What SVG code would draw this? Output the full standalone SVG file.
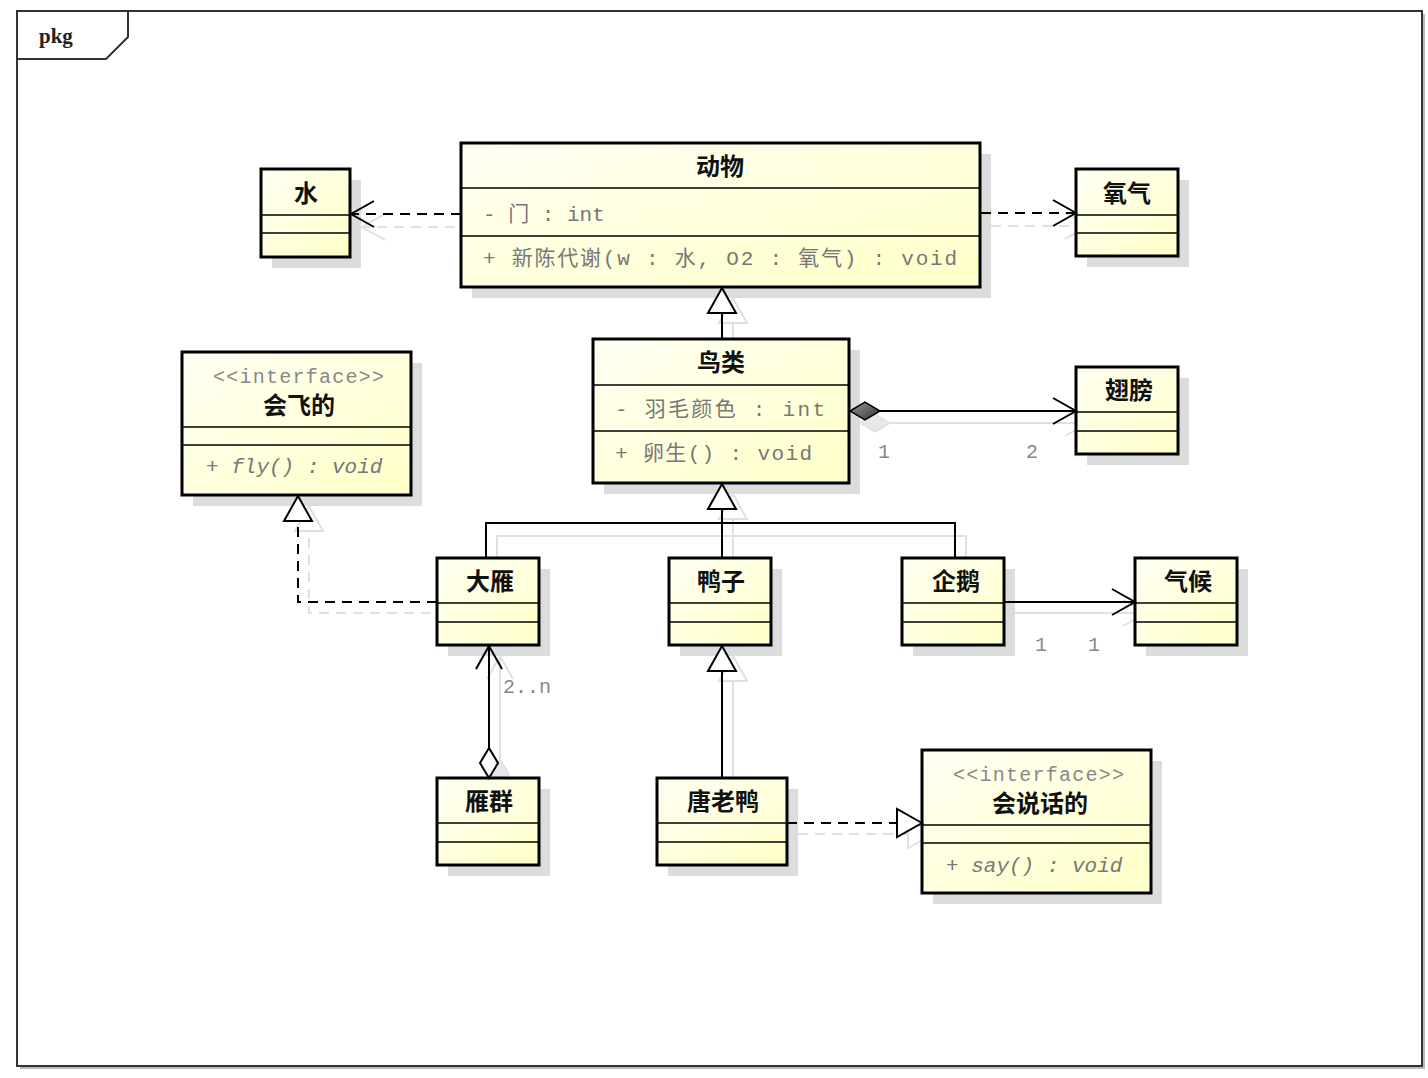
<svg xmlns="http://www.w3.org/2000/svg" width="1428" height="1078" viewBox="0 0 1428 1078">
<style>
.box{fill:url(#g);stroke:#000;stroke-width:3}
.shadow{fill:#dcdcdc}
.sep{stroke:#000;stroke-width:1.6}
.name{font-family:"Noto Sans CJK SC","Liberation Sans",sans-serif;font-size:24px;font-weight:bold;fill:#111;text-anchor:middle}
.mem{font-family:"Liberation Mono","Noto Sans CJK SC",monospace;font-size:21px;fill:#777}
.it{font-style:italic}
.st{font-family:"Liberation Mono","Noto Sans CJK SC",monospace;font-size:20px;fill:#888}
.lbl{font-family:"Liberation Mono",monospace;font-size:20px;fill:#888}
.ln{fill:none;stroke:#000;stroke-width:2}
.dash{stroke-dasharray:10 7}
.sh{fill:none;stroke:#e0e0e0;stroke-width:2}
</style>
<defs>
<linearGradient id="g" x1="0" y1="0" x2="1" y2="1">
<stop offset="0" stop-color="#fffff4"/>
<stop offset="1" stop-color="#ffffc8"/>
</linearGradient>
<linearGradient id="dg" x1="0" y1="0" x2="1" y2="1">
<stop offset="0" stop-color="#999"/>
<stop offset="1" stop-color="#333"/>
</linearGradient>
<marker id="open" viewBox="-26 -15 28 30" refX="0" refY="0" markerWidth="28" markerHeight="30" markerUnits="userSpaceOnUse" orient="auto">
<path d="M-23,-13 L0,0 L-23,13" fill="none" stroke="#000" stroke-width="2"/>
</marker>
<marker id="tri" viewBox="-28 -16 30 32" refX="0" refY="0" markerWidth="30" markerHeight="32" markerUnits="userSpaceOnUse" orient="auto">
<path d="M0,0 L-25,-14 L-25,14 Z" fill="#fff" stroke="#000" stroke-width="2"/>
</marker>
<marker id="dfill" viewBox="-2 -11 34 22" refX="0" refY="0" markerWidth="34" markerHeight="22" markerUnits="userSpaceOnUse" orient="auto">
<path d="M0,0 L15,-9 L30,0 L15,9 Z" fill="url(#dg)" stroke="#000" stroke-width="1.5"/>
</marker>
<marker id="dopen" viewBox="-2 -11 34 22" refX="0" refY="0" markerWidth="34" markerHeight="22" markerUnits="userSpaceOnUse" orient="auto">
<path d="M0,0 L15,-9 L30,0 L15,9 Z" fill="#fff" stroke="#000" stroke-width="2"/>
</marker>
<marker id="openS" viewBox="-26 -15 28 30" refX="0" refY="0" markerWidth="28" markerHeight="30" markerUnits="userSpaceOnUse" orient="auto">
<path d="M-23,-13 L0,0 L-23,13" fill="none" stroke="#e0e0e0" stroke-width="2"/>
</marker>
<marker id="triS" viewBox="-28 -16 30 32" refX="0" refY="0" markerWidth="30" markerHeight="32" markerUnits="userSpaceOnUse" orient="auto">
<path d="M0,0 L-25,-14 L-25,14 Z" fill="#fff" stroke="#e0e0e0" stroke-width="2"/>
</marker>
<marker id="dS" viewBox="-2 -11 34 22" refX="0" refY="0" markerWidth="34" markerHeight="22" markerUnits="userSpaceOnUse" orient="auto">
<path d="M0,0 L15,-9 L30,0 L15,9 Z" fill="#e8e8e8" stroke="#e0e0e0" stroke-width="1.5"/>
</marker>
</defs>
<rect width="1428" height="1078" fill="#fff"/>

<g id="frame">
<path d="M1424,14 L1424,1068 L20,1068" fill="none" stroke="#bbb" stroke-width="2"/>
<rect x="17" y="11" width="1405" height="1055" fill="none" stroke="#333" stroke-width="2"/>
<path d="M17,59 L106,59 L128,37 L128,11" fill="none" stroke="#333" stroke-width="2"/>
<text x="39" y="43" font-family="Liberation Serif,serif" font-size="21" font-weight="bold" fill="#222">pkg</text>
</g>

<g id="connectors-shadow">
<path class="sh dash" d="M472,227 L362,227" marker-end="url(#openS)"/>
<path class="sh dash" d="M991,226 L1088,226" marker-end="url(#openS)"/>
<path class="sh" d="M733,350 L733,298" marker-end="url(#triS)"/>
<path class="sh" d="M860,423 L1088,423" marker-start="url(#dS)" marker-end="url(#openS)"/>
<path class="sh" d="M733,569 L733,536 M497,569 L497,536 L966,536 L966,569 M733,536 L733,494" marker-end="url(#triS)"/>
<path class="sh dash" d="M448,613 L309,613 L309,506" marker-end="url(#triS)"/>
<path class="sh" d="M500,789 L500,656" marker-start="url(#dS)" marker-end="url(#openS)"/>
<path class="sh" d="M733,789 L733,656" marker-end="url(#triS)"/>
<path class="sh dash" d="M798,834 L933,834" marker-end="url(#triS)"/>
<path class="sh" d="M1015,613 L1146,613" marker-end="url(#openS)"/>
</g>

<g id="node-shui">
<rect class="shadow" x="272" y="180" width="89" height="88"/>
<rect class="box" x="261" y="169" width="89" height="88"/>
<line class="sep" x1="261" y1="215" x2="350" y2="215"/>
<line class="sep" x1="261" y1="233" x2="350" y2="233"/>
<text class="name" x="306" y="202">水</text>
</g>

<g id="node-yangqi">
<rect class="shadow" x="1087" y="180" width="102" height="87"/>
<rect class="box" x="1076" y="169" width="102" height="87"/>
<line class="sep" x1="1076" y1="215" x2="1178" y2="215"/>
<line class="sep" x1="1076" y1="233" x2="1178" y2="233"/>
<text class="name" x="1127" y="202">氧气</text>
</g>

<g id="node-dongwu">
<rect class="shadow" x="472" y="154" width="519" height="144"/>
<rect class="box" x="461" y="143" width="519" height="144"/>
<line class="sep" x1="461" y1="188" x2="980" y2="188"/>
<line class="sep" x1="461" y1="236" x2="980" y2="236"/>
<text class="name" x="720" y="175">动物</text>
<text class="mem" x="483" y="221">- 门 : int</text>
<text class="mem" x="483" y="265" textLength="474" lengthAdjust="spacing">+ 新陈代谢(w : 水, O2 : 氧气) : void</text>
</g>

<g id="node-niaolei">
<rect class="shadow" x="604" y="350" width="256" height="144"/>
<rect class="box" x="593" y="339" width="256" height="144"/>
<line class="sep" x1="593" y1="385" x2="849" y2="385"/>
<line class="sep" x1="593" y1="431" x2="849" y2="431"/>
<text class="name" x="721" y="371">鸟类</text>
<text class="mem" x="615" y="416" textLength="210" lengthAdjust="spacing">- 羽毛颜色 : int</text>
<text class="mem" x="615" y="460" textLength="197" lengthAdjust="spacing">+ 卵生() : void</text>
</g>

<g id="node-chibang">
<rect class="shadow" x="1087" y="378" width="102" height="87"/>
<rect class="box" x="1076" y="367" width="102" height="87"/>
<line class="sep" x1="1076" y1="412" x2="1178" y2="412"/>
<line class="sep" x1="1076" y1="431" x2="1178" y2="431"/>
<text class="name" x="1129" y="399">翅膀</text>
</g>

<g id="node-huifeide">
<rect class="shadow" x="193" y="363" width="229" height="143"/>
<rect class="box" x="182" y="352" width="229" height="143"/>
<line class="sep" x1="182" y1="427" x2="411" y2="427"/>
<line class="sep" x1="182" y1="445" x2="411" y2="445"/>
<text class="st" x="213" y="383" textLength="171" lengthAdjust="spacing">&lt;&lt;interface&gt;&gt;</text>
<text class="name" x="299" y="414">会飞的</text>
<text class="mem it" x="206" y="473">+ fly() : void</text>
</g>

<g id="node-dayan">
<rect class="shadow" x="448" y="569" width="102" height="87"/>
<rect class="box" x="437" y="558" width="102" height="87"/>
<line class="sep" x1="437" y1="603" x2="539" y2="603"/>
<line class="sep" x1="437" y1="622" x2="539" y2="622"/>
<text class="name" x="490" y="590">大雁</text>
</g>

<g id="node-yazi">
<rect class="shadow" x="680" y="569" width="102" height="87"/>
<rect class="box" x="669" y="558" width="102" height="87"/>
<line class="sep" x1="669" y1="603" x2="771" y2="603"/>
<line class="sep" x1="669" y1="622" x2="771" y2="622"/>
<text class="name" x="721" y="590">鸭子</text>
</g>

<g id="node-qie">
<rect class="shadow" x="913" y="569" width="102" height="87"/>
<rect class="box" x="902" y="558" width="102" height="87"/>
<line class="sep" x1="902" y1="603" x2="1004" y2="603"/>
<line class="sep" x1="902" y1="622" x2="1004" y2="622"/>
<text class="name" x="956" y="590">企鹅</text>
</g>

<g id="node-qihou">
<rect class="shadow" x="1146" y="569" width="102" height="87"/>
<rect class="box" x="1135" y="558" width="102" height="87"/>
<line class="sep" x1="1135" y1="603" x2="1237" y2="603"/>
<line class="sep" x1="1135" y1="622" x2="1237" y2="622"/>
<text class="name" x="1188" y="590">气候</text>
</g>

<g id="node-yanqun">
<rect class="shadow" x="448" y="789" width="102" height="87"/>
<rect class="box" x="437" y="778" width="102" height="87"/>
<line class="sep" x1="437" y1="823" x2="539" y2="823"/>
<line class="sep" x1="437" y1="842" x2="539" y2="842"/>
<text class="name" x="489" y="810">雁群</text>
</g>

<g id="node-tanglaoya">
<rect class="shadow" x="668" y="789" width="130" height="87"/>
<rect class="box" x="657" y="778" width="130" height="87"/>
<line class="sep" x1="657" y1="823" x2="787" y2="823"/>
<line class="sep" x1="657" y1="842" x2="787" y2="842"/>
<text class="name" x="723" y="810">唐老鸭</text>
</g>

<g id="node-huishuohuade">
<rect class="shadow" x="933" y="761" width="229" height="143"/>
<rect class="box" x="922" y="750" width="229" height="143"/>
<line class="sep" x1="922" y1="825" x2="1151" y2="825"/>
<line class="sep" x1="922" y1="843" x2="1151" y2="843"/>
<text class="st" x="953" y="781" textLength="171" lengthAdjust="spacing">&lt;&lt;interface&gt;&gt;</text>
<text class="name" x="1040" y="812">会说话的</text>
<text class="mem it" x="946" y="872">+ say() : void</text>
</g>

<g id="connectors">
<path class="ln dash" d="M461,214 L351,214" marker-end="url(#open)"/>
<path class="ln dash" d="M981,213 L1076,213" marker-end="url(#open)"/>
<path class="ln" d="M722,339 L722,288" marker-end="url(#tri)"/>
<path class="ln" d="M850,411 L1076,411" marker-start="url(#dfill)" marker-end="url(#open)"/>
<path class="ln" d="M486,558 L486,523 L955,523 L955,558 M722,558 L722,523"/>
<path class="ln" d="M722,523 L722,484" marker-end="url(#tri)"/>
<path class="ln dash" d="M437,602 L298,602 L298,496" marker-end="url(#tri)"/>
<path class="ln" d="M489,778 L489,646" marker-start="url(#dopen)" marker-end="url(#open)"/>
<path class="ln" d="M722,778 L722,646" marker-end="url(#tri)"/>
<path class="ln dash" d="M787,823 L922,823" marker-end="url(#tri)"/>
<path class="ln" d="M1004,602 L1135,602" marker-end="url(#open)"/>
<text class="lbl" x="878" y="458">1</text>
<text class="lbl" x="1026" y="458">2</text>
<text class="lbl" x="503" y="693">2..n</text>
<text class="lbl" x="1035" y="651">1</text>
<text class="lbl" x="1088" y="651">1</text>
</g>
</svg>
